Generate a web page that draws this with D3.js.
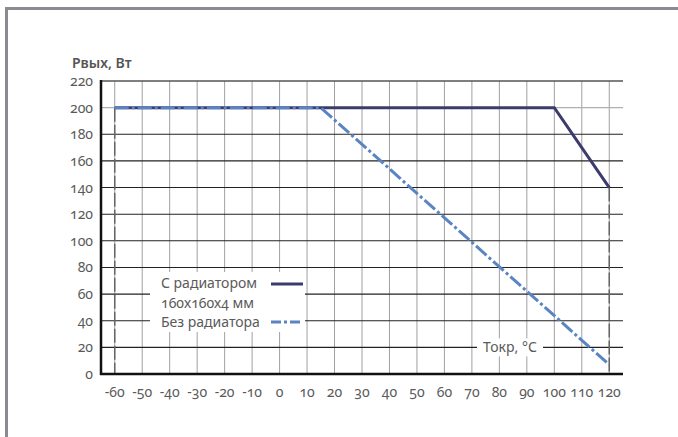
<!DOCTYPE html>
<html>
<head>
<meta charset="utf-8">
<script src="https://cdn.jsdelivr.net/npm/d3@7"></script>
<style>
  body { margin: 0; background: #fff; }
  text { font-family: "Noto Sans", "Open Sans", sans-serif; font-variant-numeric: oldstyle-nums; }
</style>
</head>
<body>
<script>
// values
var xTicks = [-60, -50, -40, -30, -20, -10, 0, 10, 20, 30, 40, 50, 60, 70, 80, 90, 100, 110, 120];
var yTicks = [0, 20, 40, 60, 80, 100, 120, 140, 160, 180, 200, 220];

var withRadiator = [
    {t: -60, p: 200},
    {t: 100, p: 200},
    {t: 120, p: 140}
];
var noRadiator = [
    {t: -60, p: 200},
    {t: 15, p: 200},
    {t: 120, p: 7}
];

var legendLabels = ["С радиатором", "160х160х4 мм", "Без радиатора"];

function draw_chart(elemn) {

    const width = 678,
          height = 437;

    const navy_col = "#3d3b6c",
          blue_col = "#5a84c2",
          text_col = "#5a5a5a";

    var svg = d3.select(elemn)
        .append("svg")
        .attr("width", width)
        .attr("height", height);

    // grey frame, only left and top are visible
    svg.append("path")
        .attr("d", "M6.5,437 V8.5 H678")
        .attr("fill", "none")
        .attr("stroke", "#8a8a90")
        .attr("stroke-width", 3);

    var x = d3.scaleLinear().domain([-65, 125]).range([101, 623]);
    var y = d3.scaleLinear().domain([0, 220]).range([374, 81]);

    // vertical grid
    svg.append("g").selectAll("line")
        .data(xTicks)
        .enter().append("line")
        .attr("x1", d => x(d)).attr("x2", d => x(d))
        .attr("y1", y(220)).attr("y2", y(0))
        .attr("stroke", "#a0a0a0")
        .attr("stroke-width", 1);

    // horizontal grid
    svg.append("g").selectAll("line")
        .data(yTicks.filter(d => d > 0))
        .enter().append("line")
        .attr("x1", x(-65)).attr("x2", x(125))
        .attr("y1", d => y(d)).attr("y2", d => y(d))
        .attr("stroke", d => d == 200 ? "#b0b0b0" : (d == 220 ? "#555" : "#222"))
        .attr("stroke-width", d => d == 220 ? 1.6 : 1.1);

    // dashed drop lines at the ends of the range
    svg.append("line")
        .attr("x1", x(-60)).attr("x2", x(-60))
        .attr("y1", y(200)).attr("y2", y(0))
        .attr("stroke", "#666").attr("stroke-width", 1.5)
        .attr("stroke-dasharray", "14,3");
    svg.append("line")
        .attr("x1", x(120)).attr("x2", x(120))
        .attr("y1", y(140)).attr("y2", y(0))
        .attr("stroke", "#666").attr("stroke-width", 1.5)
        .attr("stroke-dasharray", "14,3");

    // axes lines
    svg.append("line")
        .attr("x1", x(-65)).attr("x2", x(-65))
        .attr("y1", y(220) - 1).attr("y2", y(0) + 1)
        .attr("stroke", "#111").attr("stroke-width", 2.5);
    svg.append("line")
        .attr("x1", x(-65) - 1).attr("x2", x(125))
        .attr("y1", y(0)).attr("y2", y(0))
        .attr("stroke", "#111").attr("stroke-width", 2.5);

    // tick labels
    svg.append("g").selectAll("text")
        .data(yTicks)
        .enter().append("text")
        .text(d => d)
        .attr("x", 93)
        .attr("y", d => y(d) + 5)
        .attr("font-size", "14px")
        .attr("fill", text_col)
        .attr("text-anchor", "end");

    svg.append("g").selectAll("text")
        .data(xTicks)
        .enter().append("text")
        .text(d => d)
        .attr("x", d => x(d))
        .attr("y", 397)
        .attr("font-size", "14px")
        .attr("fill", text_col)
        .attr("text-anchor", "middle");

    svg.append("text")
        .text("Рвых, Вт")
        .attr("x", 72)
        .attr("y", 68)
        .attr("font-size", "14px")
        .attr("font-weight", "600")
        .attr("fill", "#555");

    // series
    var line = d3.line().x(d => x(d.t)).y(d => y(d.p));

    svg.append("path")
        .datum(withRadiator)
        .attr("d", line)
        .attr("fill", "none")
        .attr("stroke", navy_col)
        .attr("stroke-width", 3);

    svg.append("path")
        .datum(noRadiator)
        .attr("d", line)
        .attr("fill", "none")
        .attr("stroke", blue_col)
        .attr("stroke-width", 3)
        .attr("stroke-dasharray", "14,3,3,3");

    // legend box
    svg.append("rect")
        .attr("x", 150).attr("y", 272)
        .attr("width", 155).attr("height", 60)
        .attr("fill", "#fff");

    var legendY = [288, 308, 327];
    legendLabels.forEach(function (lab, i) {
        svg.append("text")
            .text(lab)
            .attr("x", 161)
            .attr("y", legendY[i])
            .attr("font-size", "14px")
            .attr("fill", text_col);
    });

    svg.append("line")
        .attr("x1", 271).attr("x2", 303)
        .attr("y1", 284).attr("y2", 284)
        .attr("stroke", navy_col).attr("stroke-width", 3);
    svg.append("line")
        .attr("x1", 271).attr("x2", 303)
        .attr("y1", 322).attr("y2", 322)
        .attr("stroke", blue_col).attr("stroke-width", 3)
        .attr("stroke-dasharray", "10,3,3,3");

    // x axis title over the 20 gridline
    svg.append("rect")
        .attr("x", 477).attr("y", y(20) - 9)
        .attr("width", 66).attr("height", 18)
        .attr("fill", "#fff");
    svg.append("text")
        .text("Токр, °С")
        .attr("x", 510)
        .attr("y", y(20) + 5)
        .attr("font-size", "14px")
        .attr("fill", text_col)
        .attr("text-anchor", "middle");
}

draw_chart("body");
</script>
</body>
</html>
